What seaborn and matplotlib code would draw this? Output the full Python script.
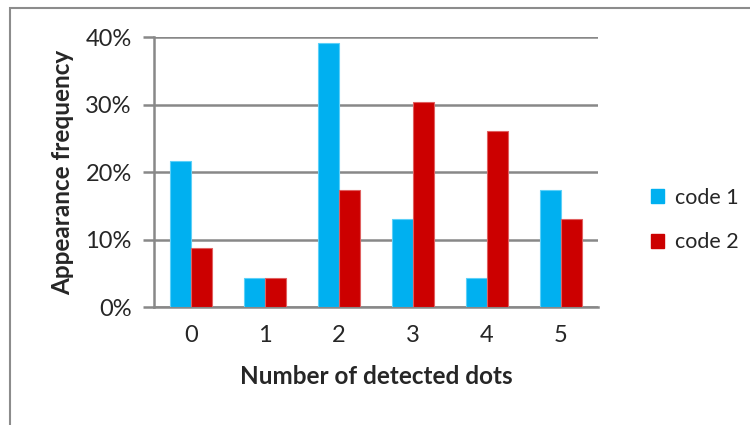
import matplotlib
matplotlib.use("Agg")
import matplotlib.pyplot as plt
import matplotlib.patches as mpatches
import seaborn as sns
import pandas as pd

# Share of images by number of dots found, per code
dots = ["0", "1", "2", "3", "4", "5"]
code1 = [21.7, 4.3, 39.1, 13.0, 4.3, 17.4]
code2 = [8.7, 4.3, 17.4, 30.4, 26.1, 13.0]
series = ["code 1", "code 2"]
colors = ["#00B0F0", "#CC0000"]
edges = ["#5CD0F8", "#E06060"]

df = pd.DataFrame({
    "dots": dots * 2,
    "freq": code1 + code2,
    "code": [series[0]] * len(dots) + [series[1]] * len(dots),
})

sns.set_style("white")
plt.rcParams["font.family"] = ["Lato", "DejaVu Sans"]

fig = plt.figure(figsize=(7.5, 4.25), dpi=100)
ax = fig.add_axes([154 / 750, 1 - 307 / 425, 444 / 750, 270 / 425])

sns.barplot(data=df, x="dots", y="freq", hue="code", palette=colors,
            saturation=1, width=0.57, gap=0, ax=ax, legend=False, zorder=3)

for i, cont in enumerate(ax.containers):
    for bar in cont:
        bar.set_edgecolor(edges[i])
        bar.set_linewidth(0.8)

ax.set_ylim(0, 40)
ax.set_xlim(-0.5, 5.5)
ax.set_yticks([0, 10, 20, 30, 40])
ax.set_yticklabels([f"{v}%" for v in [0, 10, 20, 30, 40]])
ax.yaxis.grid(True, color="#888888", linewidth=1.8, zorder=0)
ax.xaxis.grid(False)

for s in ["top", "right"]:
    ax.spines[s].set_visible(False)
ax.spines["left"].set_color("#888888")
ax.spines["left"].set_linewidth(1.8)
ax.spines["bottom"].set_color("#888888")
ax.spines["bottom"].set_linewidth(1.8)

ax.tick_params(axis="y", length=8, width=1.8, color="#888888", pad=8,
               labelsize=17, left=True)
ax.tick_params(axis="x", length=0, pad=13, labelsize=17)

ax.set_xlabel("Number of detected dots", fontsize=17.5, fontweight="bold",
              labelpad=14)
ax.set_ylabel("Appearance frequency", fontsize=17.5, fontweight="bold",
              labelpad=8)

handles = [mpatches.Patch(facecolor=c, edgecolor=c, label=s)
           for s, c in zip(series, colors)]
fig.legend(handles=handles, loc="center left",
           bbox_to_anchor=(632 / 750, 1 - 220 / 425), frameon=False,
           fontsize=15.5, handlelength=0.6, handleheight=0.6,
           handletextpad=0.5, labelspacing=1.15)

# outer chart frame
frame = mpatches.Rectangle((9.5 / 750, -0.1), 1.0, 1 - 7.5 / 425 + 0.1,
                           transform=fig.transFigure, fill=False,
                           edgecolor="#8C8C8C", linewidth=1.5)
fig.add_artist(frame)

fig.savefig("out.png", dpi=100)
